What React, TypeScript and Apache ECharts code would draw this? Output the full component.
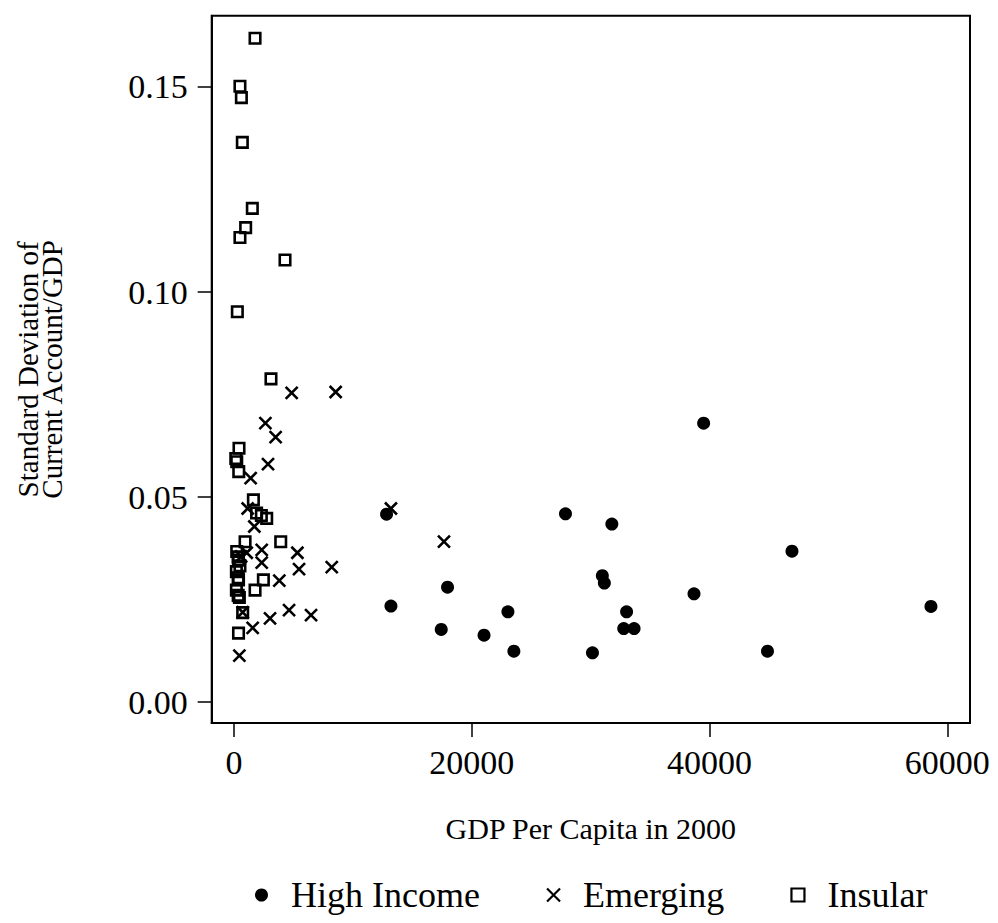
import React, { useEffect, useRef } from "react";
import * as echarts from "echarts";

// [GDP per capita in 2000, SD of current account / GDP]
const highIncome: [number, number][] = [
  [12830, 0.0458], [13200, 0.0234], [17960, 0.028], [17430, 0.0177],
  [21030, 0.0163], [23040, 0.022], [23540, 0.0124], [27880, 0.0459],
  [31780, 0.0434], [39500, 0.068], [30150, 0.012], [30980, 0.0308],
  [31150, 0.029], [33020, 0.022], [32780, 0.0179], [33650, 0.0179],
  [38690, 0.0264], [46930, 0.0368], [44870, 0.0124], [58620, 0.0233],
];

const emerging: [number, number][] = [
  [13200, 0.0472], [17660, 0.0391], [4850, 0.0754], [8550, 0.0756],
  [2640, 0.068], [3500, 0.0646], [2860, 0.058], [1400, 0.0546],
  [1150, 0.0472], [1710, 0.0428], [2330, 0.0371], [5330, 0.0364],
  [1070, 0.0364], [2330, 0.034], [5470, 0.0324], [8220, 0.0329],
  [3810, 0.0296], [4630, 0.0224], [6480, 0.0212], [3030, 0.0204],
  [1570, 0.0181], [730, 0.0219], [450, 0.0113], [600, 0.0355],
];

const insular: [number, number][] = [
  [1770, 0.1619], [500, 0.1502], [620, 0.1474], [700, 0.1365],
  [1540, 0.1204], [980, 0.1157], [500, 0.1133], [4290, 0.1078],
  [280, 0.0952], [3110, 0.0788], [420, 0.0619], [150, 0.0594],
  [230, 0.0586], [400, 0.0562], [1630, 0.0493], [1900, 0.0461],
  [2300, 0.0455], [2750, 0.0448], [930, 0.0391], [3930, 0.0391],
  [230, 0.0367], [350, 0.0354], [370, 0.0346], [500, 0.0332],
  [200, 0.0318], [350, 0.0303], [380, 0.0298], [200, 0.0273],
  [350, 0.026], [450, 0.0255], [730, 0.0218], [380, 0.0168],
  [2470, 0.0298], [1770, 0.0273],
];

const xTicks = [0, 20000, 40000, 60000];
const yTicks = [0, 0.05, 0.1, 0.15];
const seriesNames = ["High Income", "Emerging", "Insular"];
const xTitle = "GDP Per Capita in 2000";
const yTitle = "Standard Deviation of\nCurrent Account/GDP";

const FONT = "Liberation Serif";
const X_PATH = "path://M0,0L10,10M10,0L0,10";

export default function App() {
  const ref = useRef<HTMLDivElement>(null);
  useEffect(() => {
    if (!ref.current) return;
    const chart = echarts.init(ref.current, undefined, { renderer: "svg" });
    const option: any = {
      animation: false,
      backgroundColor: "#fff",
      textStyle: { fontFamily: FONT, color: "#000" },
      grid: {
        left: 211.7,
        right: 28,
        top: 15.7,
        bottom: 200,
        show: true,
        borderColor: "#000",
        borderWidth: 2,
        containLabel: false,
        outerBoundsMode: "none",
      },
      xAxis: {
        type: "value",
        min: -1876,
        max: 61904,
        axisLine: { onZero: false, lineStyle: { color: "#000", width: 2 } },
        axisTick: { show: true, length: 14, lineStyle: { color: "#000", width: 1.5 }, customValues: xTicks },
        axisLabel: {
          customValues: xTicks,
          fontSize: 34,
          margin: 22,
          color: "#000",
          fontFamily: FONT,
          formatter: (v: number) => String(Math.round(v)),
        },
        splitLine: { show: false },
        name: xTitle,
        nameLocation: "middle",
        nameGap: 90,
        nameTextStyle: { fontSize: 30, color: "#000", fontFamily: FONT },
      },
      yAxis: {
        type: "value",
        min: -0.00512,
        max: 0.16739,
        axisLine: { onZero: false, lineStyle: { color: "#000", width: 2 } },
        axisTick: { show: true, length: 14, lineStyle: { color: "#000", width: 1.5 }, customValues: yTicks },
        axisLabel: {
          customValues: yTicks,
          fontSize: 34,
          margin: 24,
          color: "#000",
          fontFamily: FONT,
          formatter: (v: number) => v.toFixed(2),
        },
        splitLine: { show: false },
        name: yTitle,
        nameLocation: "middle",
        nameRotate: 90,
        nameGap: 148,
        nameTextStyle: { fontSize: 29, lineHeight: 24, color: "#000", fontFamily: FONT, align: "center" },
      },
      legend: {
        left: 250,
        top: 872,
        itemGap: 66,
        itemWidth: 13,
        itemHeight: 13,
        textStyle: { fontSize: 36, color: "#000", fontFamily: FONT, padding: [0, 0, 0, 18] },
        data: [
          { name: seriesNames[0], icon: "circle", itemStyle: { color: "#000", borderWidth: 0 } },
          { name: seriesNames[1], icon: X_PATH, itemStyle: { color: "transparent", borderColor: "#000", borderWidth: 2.2 } },
          { name: seriesNames[2], icon: "rect", itemStyle: { color: "#fff", borderColor: "#000", borderWidth: 2.2 } },
        ],
      },
      series: [
        {
          name: seriesNames[0],
          type: "scatter",
          data: highIncome,
          symbol: "circle",
          symbolSize: 13,
          itemStyle: { color: "#000", opacity: 1 },
        },
        {
          name: seriesNames[1],
          type: "scatter",
          data: emerging,
          symbol: X_PATH,
          symbolSize: 12,
          itemStyle: { color: "transparent", borderColor: "#000", borderWidth: 2.6, opacity: 1 },
        },
        {
          name: seriesNames[2],
          type: "scatter",
          data: insular,
          symbol: "rect",
          symbolSize: 10.5,
          itemStyle: { color: "transparent", borderColor: "#000", borderWidth: 2.6, opacity: 1 },
        },
      ],
    };
    chart.setOption(option);
    return () => chart.dispose();
  }, []);
  return (
    <div
      ref={ref}
      style={{ position: "fixed", left: 0, top: 0, width: 998, height: 923, background: "#fff" }}
    />
  );
}
